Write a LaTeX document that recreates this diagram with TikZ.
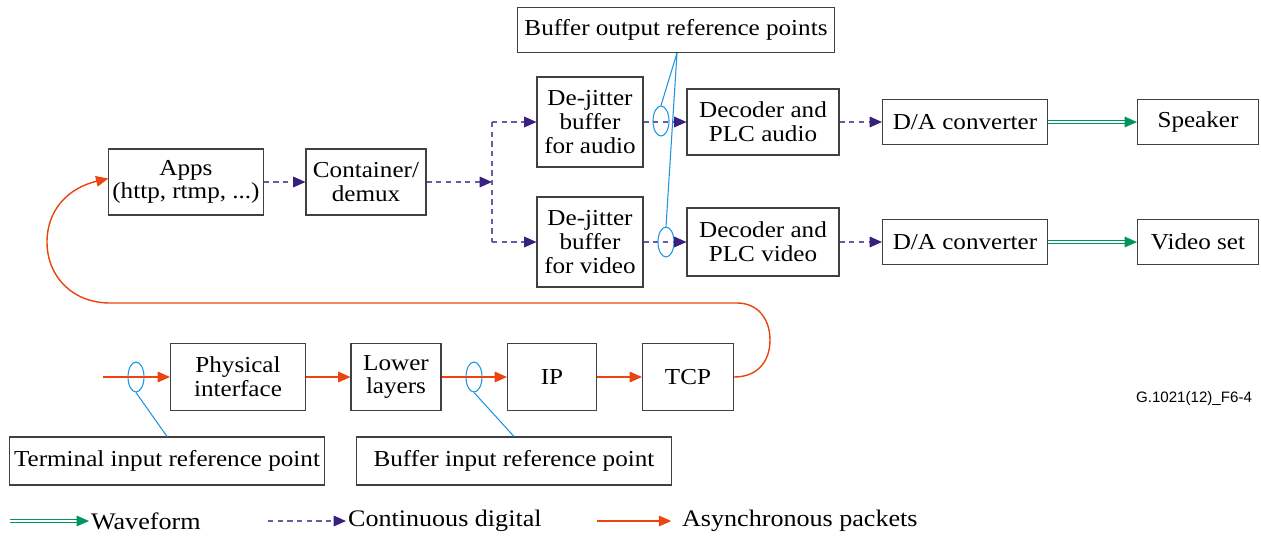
\documentclass[tikz,border=0pt]{standalone}
\usepackage{fontspec}
\setmainfont{Liberation Serif}[FakeStretch=1.1]
\newfontfamily\tagfont{Liberation Sans}
\usepackage{tikz}
\usetikzlibrary{arrows.meta,positioning,shapes.geometric}
\usepackage{xcolor}
\definecolor{pktred}{HTML}{EC4410}
\definecolor{digline}{HTML}{6A5AA8}
\definecolor{digtip}{HTML}{3A1F7C}
\definecolor{wavegreen}{HTML}{00955A}
\definecolor{refblue}{HTML}{1B95E0}

\begin{document}
\begin{tikzpicture}[
    x=0.02cm, y=-0.02cm,
    block/.style={draw=black!75, line width=0.6pt, align=center, inner sep=2pt,
      font=\fontsize{13}{13.5}\selectfont},
    refpt/.style={draw=refblue, ellipse, line width=0.6pt, inner sep=0pt,
      minimum width=0.32cm, minimum height=0.6cm},
    tie/.style={draw=refblue, line width=0.6pt},
    pkt/.style={draw=pktred, line width=0.8pt, -{Triangle[length=7pt, width=6pt]}},
    dig/.style={draw=digline, line width=0.8pt, dash pattern=on 3pt off 2.5pt,
      -{Triangle[length=7pt, width=6pt, color=digtip]}},
    wave/.style={draw=wavegreen, double=white, double distance=0.9pt, line width=0.6pt,
      -{Triangle[length=7pt, width=6pt, color=wavegreen]}},
    lbl/.style={anchor=west, inner sep=1pt, font=\fontsize{13.5}{14}\selectfont},
  ]
  \useasboundingbox (0,0) rectangle (1261,535);

  % Output side: buffers, decoders, converters
  \node[block, minimum width=6.34cm, minimum height=0.9cm] (bout) at (676,30) {Buffer output reference points};
  \node[block, minimum width=2.12cm, minimum height=1.8cm] (djA) at (590,122) {De-jitter\\buffer\\for audio};
  \node[block, minimum width=2.12cm, minimum height=1.8cm] (djV) at (590,242) {De-jitter\\buffer\\for video};
  \node[block, minimum width=3.04cm, minimum height=1.32cm] (decA) at (763,122) {Decoder and\\PLC audio};
  \node[block, minimum width=3.04cm, minimum height=1.36cm] (decV) at (763,242) {Decoder and\\PLC video};
  \node[block, minimum width=3.3cm, minimum height=0.9cm] (daA) at (965,122) {D/A converter};
  \node[block, minimum width=3.3cm, minimum height=0.9cm] (daV) at (965,242) {D/A converter};
  \node[block, minimum width=2.42cm, minimum height=0.9cm] (spk) at (1198,122) {Speaker};
  \node[block, minimum width=2.42cm, minimum height=0.9cm] (vset) at (1198,242) {Video set};

  % Apps and demux
  \node[block, minimum width=3.04cm, minimum height=1.32cm] (apps) at (186,182) {Apps\\(http, rtmp, ...)};
  \node[block, minimum width=2.4cm, minimum height=1.32cm] (demux) at (366,182) {Container/\\demux};

  % Input side: protocol stack
  \node[block, minimum width=2.7cm, minimum height=1.34cm] (phy) at (238,377) {Physical\\interface};
  \node[block, minimum width=1.8cm, minimum height=1.34cm] (low) at (396,377) {Lower\\layers};
  \node[block, minimum width=1.78cm, minimum height=1.34cm] (ip) at (552,377) {IP};
  \node[block, minimum width=1.82cm, minimum height=1.34cm] (tcp) at (688,377) {TCP};
  \node[block, minimum width=6.32cm, minimum height=0.96cm] (tirp) at (167,461) {Terminal input reference point};
  \node[block, minimum width=6.3cm, minimum height=0.96cm] (birp) at (514,461) {Buffer input reference point};

  % Reference point markers
  \node[refpt] (eA) at (661,121) {};
  \node[refpt] (eV) at (666,242) {};
  \node[refpt] (eT) at (136,377) {};
  \node[refpt] (eB) at (474,377) {};
  \coordinate (bo) at (677,53);
  \draw[tie] (bo) -- (eA.north);
  \draw[tie] (bo) -- (eV.north);
  \draw[tie] (eT.south) -- (tirp.north);
  \draw[tie] (eB.south) -- (birp.north);

  % Asynchronous packets
  \coordinate (in) at (103,377);
  \draw[pkt] (in) -- (phy);
  \draw[pkt] (phy) -- (low);
  \draw[pkt] (low) -- (ip);
  \draw[pkt] (ip) -- (tcp);
  \draw[pkt] (tcp.east) .. controls (757,377) and (770,362) .. (770,340)
    .. controls (770,318) and (757,303) .. (737,303) -- (110,303)
    .. controls (72,303) and (47,276) .. (47,242)
    .. controls (47,210) and (68,188) .. ([yshift=2pt]apps.west);

  % Continuous digital
  \coordinate (sp) at (492,182);
  \coordinate (spA) at (492,122);
  \coordinate (spV) at (492,242);
  \draw[dig] (apps) -- (demux);
  \draw[dig] (demux) -- (sp);
  \draw[dig, -] (spA) -- (spV);
  \draw[dig] (spA) -- (djA);
  \draw[dig] (spV) -- (djV);
  \draw[dig] (djA) -- (decA);
  \draw[dig] (djV) -- (decV);
  \draw[dig] (decA) -- (daA);
  \draw[dig] (decV) -- (daV);

  % Waveform
  \draw[wave] (daA) -- (spk);
  \draw[wave] (daV) -- (vset);

  % Figure tag
  \node[font=\tagfont\fontsize{8.6}{10}\selectfont] (tag) at (1194,399) {G.1021(12)\_F6-4};

  % Legend
  \node[lbl] (lgW) at (89,521) {Waveform};
  \node[lbl] (lgD) at (346,521) {Continuous digital};
  \node[lbl] (lgP) at (680,521) {Asynchronous packets};
  \coordinate (lw) at (10,521);
  \coordinate (ld) at (268,521);
  \coordinate (lp) at (597,521);
  \draw[wave] (lw) -- (lgW.west);
  \draw[dig] (ld) -- (lgD.west);
  \draw[pkt] (lp) -- ([xshift=-5pt]lgP.west);
\end{tikzpicture}
\end{document}
